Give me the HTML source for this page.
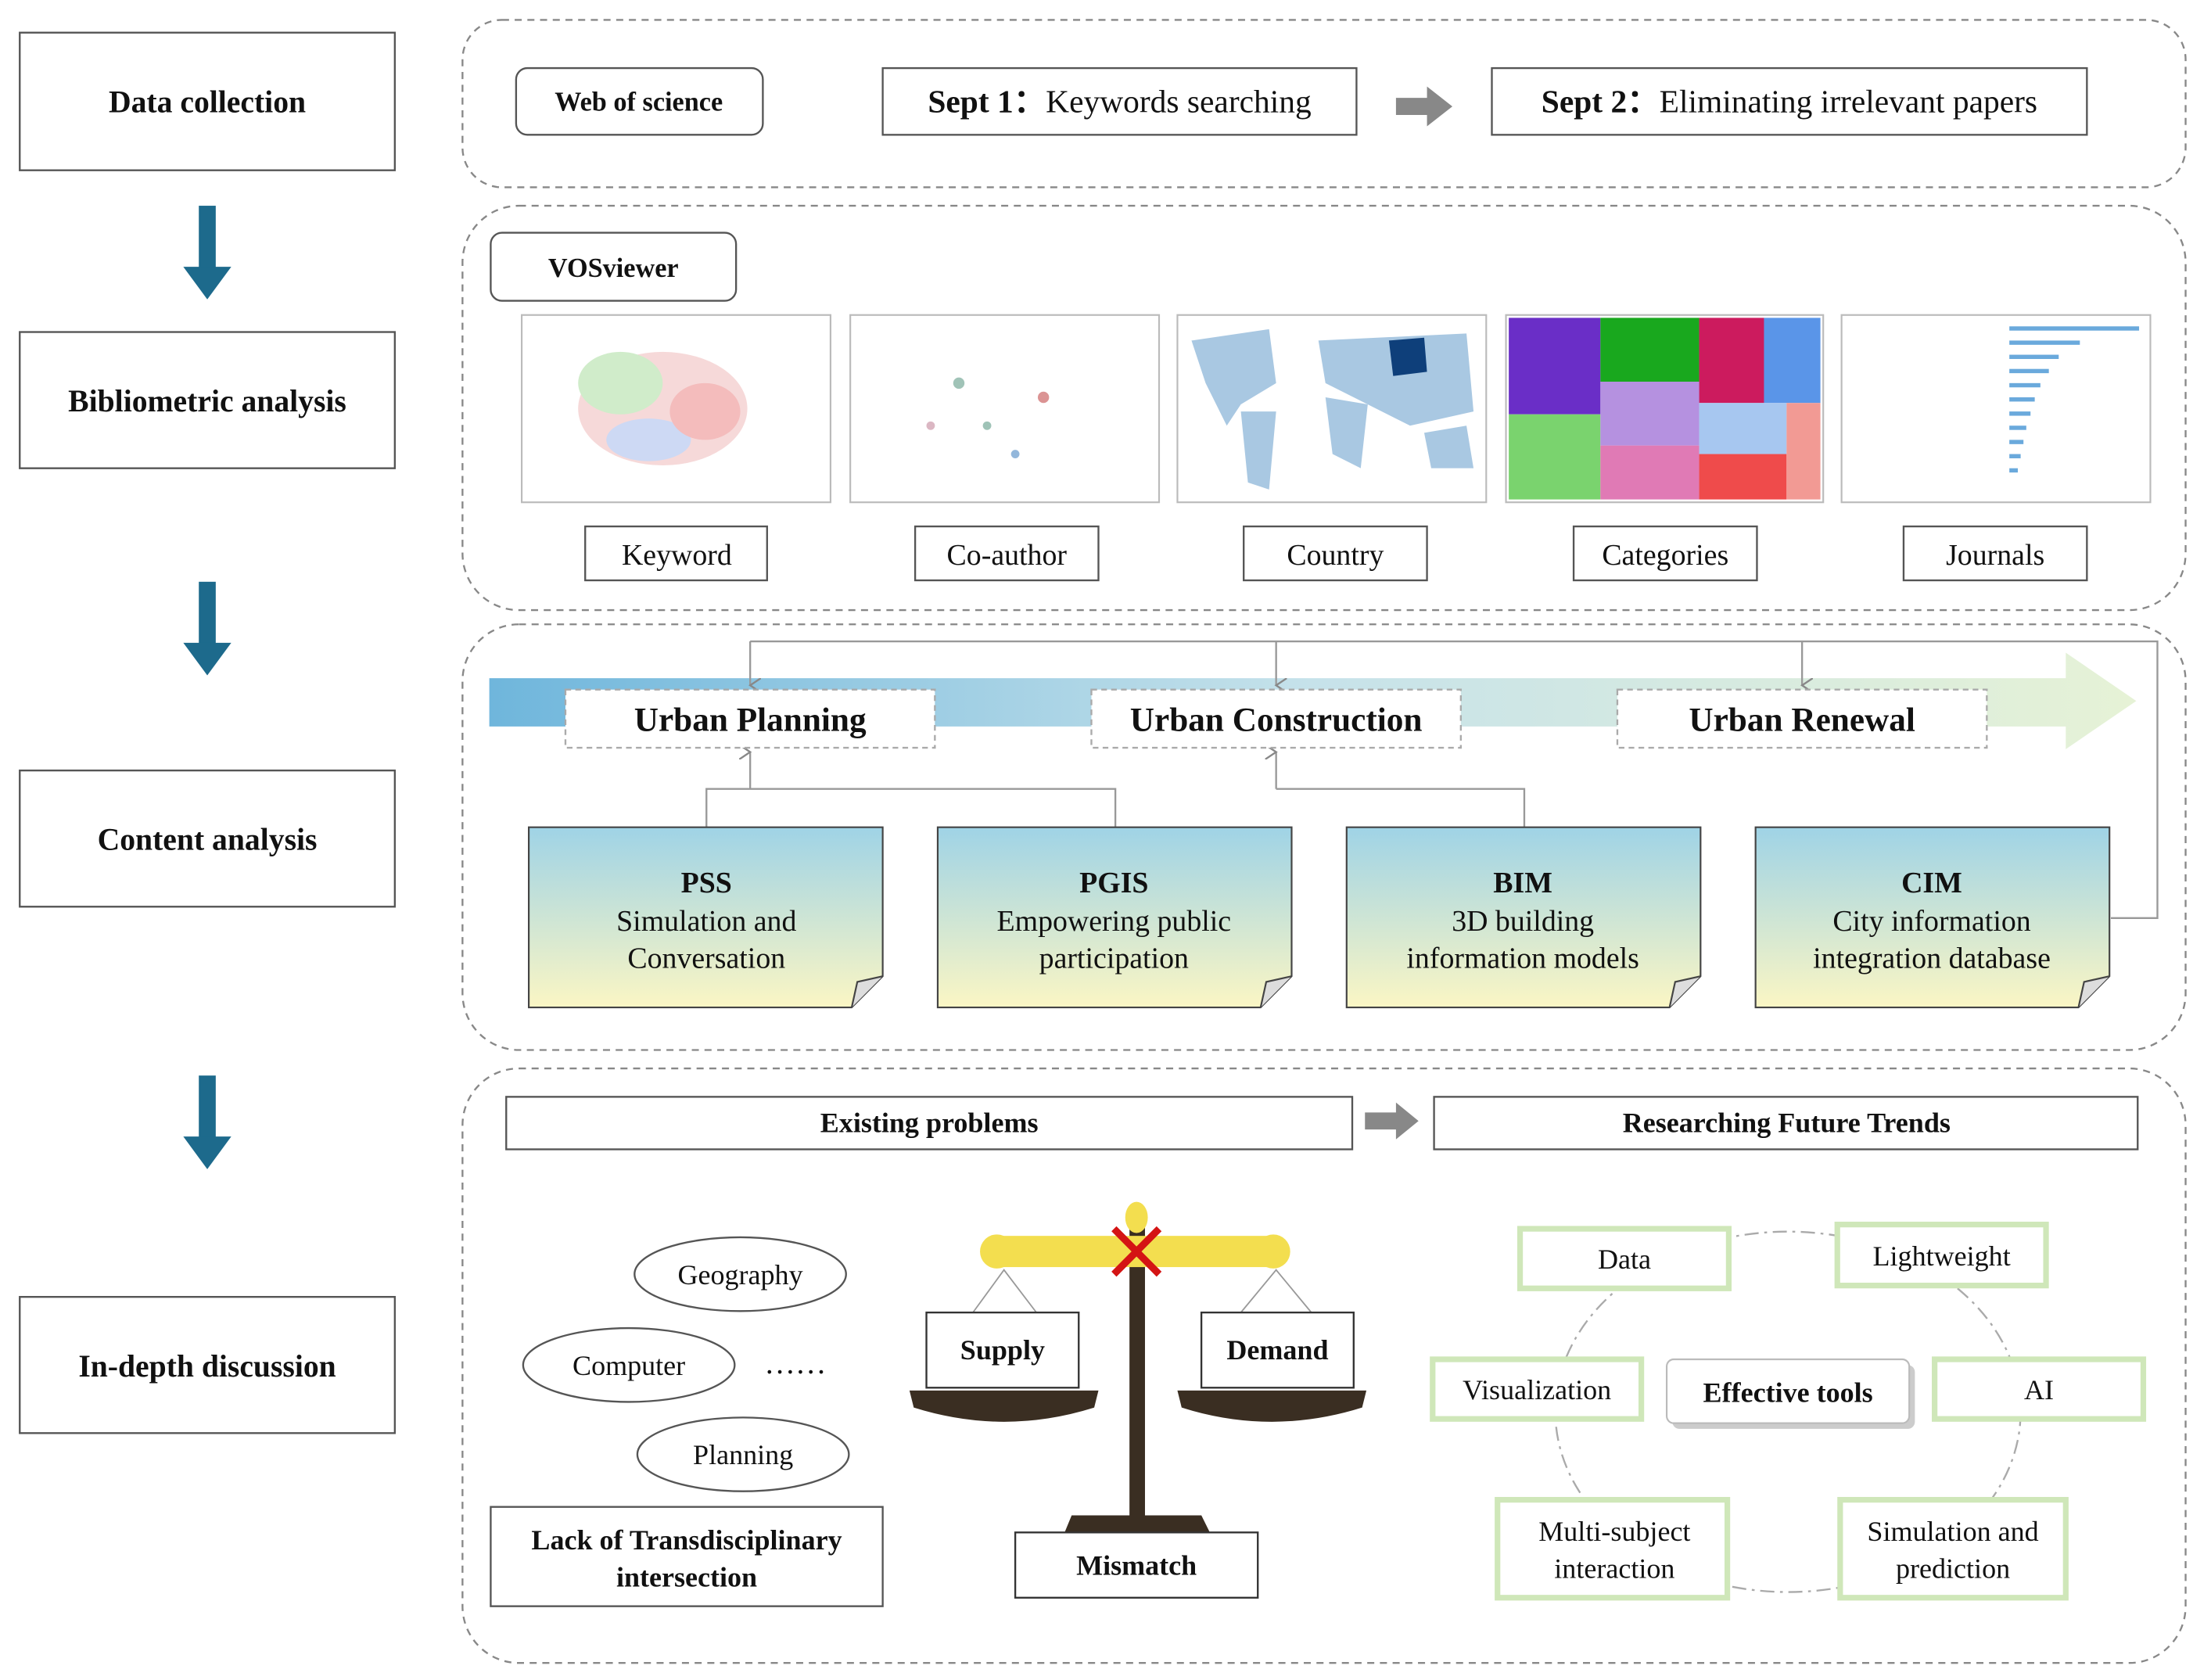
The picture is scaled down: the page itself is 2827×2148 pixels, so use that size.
<!DOCTYPE html>
<html><head><meta charset="utf-8"><style>
html,body{margin:0;padding:0;background:#fff;}
svg{display:block;}
text{font-family:"Liberation Serif",serif;fill:#111;}
</style></head><body>
<svg width="2827" height="2148" viewBox="0 0 1568 1184" preserveAspectRatio="none" xmlns="http://www.w3.org/2000/svg">
<defs>
<linearGradient id="band" x1="0" x2="1" y1="0" y2="0">
<stop offset="0" stop-color="#6fb6dc"/><stop offset="0.5" stop-color="#c6e2ea"/><stop offset="1" stop-color="#e6f2d6"/></linearGradient>
<linearGradient id="note" x1="0" x2="0" y1="0" y2="1">
<stop offset="0" stop-color="#9fd3e6"/><stop offset="1" stop-color="#fbf6c4"/></linearGradient>
<marker id="ah" markerWidth="8" markerHeight="8" refX="4" refY="6" orient="auto"><path d="M0,0 L4,6 L8,0" fill="none" stroke="#888" stroke-width="1"/></marker>
</defs>
<g fill="#fff" stroke="#555" stroke-width="1.3">
<rect x="14" y="23" width="266" height="97"/>
<rect x="14" y="234" width="266" height="96"/>
<rect x="14" y="543" width="266" height="96"/>
<rect x="14" y="914" width="266" height="96"/>
</g>
<g font-weight="bold" font-size="22" text-anchor="middle">
<text x="147" y="79">Data collection</text>
<text x="147" y="290">Bibliometric analysis</text>
<text x="147" y="599">Content analysis</text>
<text x="147" y="970">In-depth discussion</text>
</g>
<g fill="#1d6a8c">
<rect x="141" y="145" width="12" height="45"/><path d="M130,188 L164,188 L147,211Z"/>
<rect x="141" y="410" width="12" height="45"/><path d="M130,453 L164,453 L147,476Z"/>
<rect x="141" y="758" width="12" height="45"/><path d="M130,801 L164,801 L147,824Z"/>
</g>
<g fill="none" stroke="#888" stroke-width="1.3" stroke-dasharray="5,4">
<rect x="328" y="14" width="1222" height="118" rx="28"/>
<rect x="328" y="145" width="1222" height="285" rx="40"/>
<rect x="328" y="440" width="1222" height="300" rx="40"/>
<rect x="328" y="753" width="1222" height="419" rx="40"/>
</g>
<!-- panel1 -->
<rect x="366" y="48" width="175" height="47" rx="8" fill="#fff" stroke="#555" stroke-width="1.3"/>
<text x="453" y="78" font-size="19" font-weight="bold" text-anchor="middle">Web of science</text>
<rect x="626" y="48" width="336" height="47" fill="#fff" stroke="#555" stroke-width="1.3"/>
<text x="794" y="79" font-size="23" text-anchor="middle"><tspan font-weight="bold">Sept 1：</tspan>Keywords searching</text>
<path d="M990,69 L1012,69 L1012,61 L1030,75 L1012,89 L1012,81 L990,81Z" fill="#888"/>
<rect x="1058" y="48" width="422" height="47" fill="#fff" stroke="#555" stroke-width="1.3"/>
<text x="1269" y="79" font-size="23" text-anchor="middle"><tspan font-weight="bold">Sept 2：</tspan>Eliminating irrelevant papers</text>
<!-- panel2 -->
<rect x="348" y="164" width="174" height="48" rx="8" fill="#fff" stroke="#555" stroke-width="1.3"/>
<text x="435" y="195" font-size="19" font-weight="bold" text-anchor="middle">VOSviewer</text>
<g stroke="#bbb" stroke-width="1.2" fill="#fff">
<rect x="370" y="222" width="219" height="132"/><rect x="603" y="222" width="219" height="132"/>
<rect x="835" y="222" width="219" height="132"/><rect x="1068" y="222" width="225" height="132"/>
<rect x="1306" y="222" width="219" height="132"/></g>
<g opacity="0.7">
<ellipse cx="470" cy="288" rx="60" ry="40" fill="#f3c9c9"/><ellipse cx="440" cy="270" rx="30" ry="22" fill="#bde5b5"/><ellipse cx="460" cy="310" rx="30" ry="15" fill="#b9c9f0"/><ellipse cx="500" cy="290" rx="25" ry="20" fill="#f0a0a0"/>
</g>
<g fill="#7a9" opacity="0.7"><circle cx="680" cy="270" r="4"/><circle cx="700" cy="300" r="3"/><circle cx="740" cy="280" r="4" fill="#c66"/><circle cx="720" cy="320" r="3" fill="#69c"/><circle cx="660" cy="300" r="3" fill="#c9a"/></g>
<g fill="#a9c8e2"><path d="M845,240 L900,232 L905,270 L880,285 L870,300 L855,270Z"/><path d="M880,290 L905,290 L900,345 L885,340Z"/><path d="M935,240 L1040,235 L1045,290 L1000,300 L960,280 L940,270Z"/><path d="M940,280 L970,285 L965,330 L945,320Z"/><path d="M1010,305 L1040,300 L1045,330 L1015,330Z"/></g>
<path d="M985,240 L1010,238 L1012,262 L988,265Z" fill="#0e3f7a"/>
<rect x="1070" y="224" width="65" height="68" fill="#6a2ec7"/><rect x="1135" y="224" width="70" height="45" fill="#19a81e"/><rect x="1205" y="224" width="46" height="60" fill="#cc1b5e"/><rect x="1251" y="224" width="40" height="60" fill="#5a95e8"/>
<rect x="1070" y="292" width="65" height="60" fill="#7ad36e"/><rect x="1135" y="269" width="70" height="45" fill="#b591e0"/><rect x="1135" y="314" width="70" height="38" fill="#e07ab5"/><rect x="1205" y="284" width="62" height="36" fill="#a7c7f0"/><rect x="1205" y="320" width="62" height="32" fill="#ef4b4b"/><rect x="1267" y="284" width="24" height="68" fill="#f29a94"/>
<g fill="#6aa9dc"><rect x="1425" y="230" width="92" height="3"/><rect x="1425" y="240" width="50" height="3"/><rect x="1425" y="250" width="35" height="3"/><rect x="1425" y="260" width="28" height="3"/><rect x="1425" y="270" width="22" height="3"/><rect x="1425" y="280" width="18" height="3"/><rect x="1425" y="290" width="15" height="3"/><rect x="1425" y="300" width="12" height="3"/><rect x="1425" y="310" width="10" height="3"/><rect x="1425" y="320" width="8" height="3"/><rect x="1425" y="330" width="6" height="3"/></g>
<g fill="#fff" stroke="#555" stroke-width="1.3">
<rect x="415" y="371" width="129" height="38"/><rect x="649" y="371" width="130" height="38"/><rect x="882" y="371" width="130" height="38"/><rect x="1116" y="371" width="130" height="38"/><rect x="1350" y="371" width="130" height="38"/></g>
<g font-size="21" text-anchor="middle">
<text x="480" y="398">Keyword</text><text x="714" y="398">Co-author</text><text x="947" y="398">Country</text><text x="1181" y="398">Categories</text><text x="1415" y="398">Journals</text></g>
<!-- panel3 -->
<path d="M347,478 L1465,478 L1465,460 L1515,494 L1465,528 L1465,512 L347,512Z" fill="url(#band)"/>
<g fill="none" stroke="#999" stroke-width="1.3">
<path d="M532,452 L1530,452 L1530,647 L1497,647"/>
<path d="M532,452 L532,483" marker-end="url(#ah)"/><path d="M905,452 L905,483" marker-end="url(#ah)"/><path d="M1278,452 L1278,483" marker-end="url(#ah)"/>
<path d="M501,583 L501,556 L791,556 L791,583"/><path d="M532,556 L532,530" marker-end="url(#ah)"/>
<path d="M1081,583 L1081,556 L905,556"/><path d="M905,556 L905,530" marker-end="url(#ah)"/>
</g>
<g fill="#fff" stroke="#aaa" stroke-width="1.3" stroke-dasharray="4,3">
<rect x="401" y="486" width="262" height="41"/><rect x="774" y="486" width="262" height="41"/><rect x="1147" y="486" width="262" height="41"/></g>
<g font-size="24" font-weight="bold" text-anchor="middle">
<text x="532" y="515">Urban Planning</text><text x="905" y="515">Urban Construction</text><text x="1278" y="515">Urban Renewal</text></g>
<g stroke="#444" stroke-width="1.2">
<path d="M375,583 L626,583 L626,688 L604,710 L375,710Z" fill="url(#note)"/><path d="M604,710 L608,692 L626,688" fill="#ddd"/>
<path d="M665,583 L916,583 L916,688 L894,710 L665,710Z" fill="url(#note)"/><path d="M894,710 L898,692 L916,688" fill="#ddd"/>
<path d="M955,583 L1206,583 L1206,688 L1184,710 L955,710Z" fill="url(#note)"/><path d="M1184,710 L1188,692 L1206,688" fill="#ddd"/>
<path d="M1245,583 L1496,583 L1496,688 L1474,710 L1245,710Z" fill="url(#note)"/><path d="M1474,710 L1478,692 L1496,688" fill="#ddd"/>
</g>
<g font-size="21" text-anchor="middle">
<text x="501" y="629" font-weight="bold">PSS</text><text x="501" y="656">Simulation and</text><text x="501" y="682">Conversation</text>
<text x="790" y="629" font-weight="bold">PGIS</text><text x="790" y="656">Empowering public</text><text x="790" y="682">participation</text>
<text x="1080" y="629" font-weight="bold">BIM</text><text x="1080" y="656">3D building</text><text x="1080" y="682">information models</text>
<text x="1370" y="629" font-weight="bold">CIM</text><text x="1370" y="656">City information</text><text x="1370" y="682">integration database</text>
</g>
<!-- panel4 -->
<rect x="359" y="773" width="600" height="37" fill="#fff" stroke="#555" stroke-width="1.3"/>
<text x="659" y="798" font-size="20" font-weight="bold" text-anchor="middle">Existing problems</text>
<path d="M968,784 L990,784 L990,777 L1006,790 L990,803 L990,796 L968,796Z" fill="#888"/>
<rect x="1017" y="773" width="499" height="37" fill="#fff" stroke="#555" stroke-width="1.3"/>
<text x="1267" y="798" font-size="20" font-weight="bold" text-anchor="middle">Researching Future Trends</text>
<g fill="#fff" stroke="#555" stroke-width="1.3">
<ellipse cx="525" cy="898" rx="75" ry="26"/><ellipse cx="446" cy="962" rx="75" ry="26"/><ellipse cx="527" cy="1025" rx="75" ry="26"/>
<rect x="348" y="1062" width="278" height="70"/></g>
<g font-size="20" text-anchor="middle">
<text x="525" y="905">Geography</text><text x="446" y="969">Computer</text><text x="527" y="1032">Planning</text>
<text x="564" y="968" font-size="22">……</text>
<text x="487" y="1092" font-weight="bold">Lack of Transdisciplinary</text><text x="487" y="1118" font-weight="bold">intersection</text></g>
<!-- balance -->
<g stroke="#999" stroke-width="1" fill="none"><path d="M690,925 L712,895 L735,925"/><path d="M880,925 L905,895 L930,925"/></g>
<rect x="801" y="865" width="11" height="205" fill="#3a2e22"/>
<path d="M760,1068 L852,1068 L858,1080 L755,1080Z" fill="#3a2e22"/>
<rect x="705" y="871" width="200" height="22" fill="#f3de4f"/>
<circle cx="707" cy="882" r="12" fill="#f3de4f"/><circle cx="903" cy="882" r="12" fill="#f3de4f"/>
<ellipse cx="806" cy="858" rx="8" ry="11" fill="#f3de4f"/>
<path d="M790,866 L822,898 M822,866 L790,898" stroke="#d41414" stroke-width="5"/>
<path d="M645,980 L779,980 L776,992 Q712,1012 648,992Z" fill="#3a2e22"/>
<path d="M835,980 L969,980 L966,992 Q902,1012 838,992Z" fill="#3a2e22"/>
<g fill="#fff" stroke="#333" stroke-width="1.3"><rect x="657" y="925" width="108" height="53"/><rect x="852" y="925" width="108" height="53"/><rect x="720" y="1080" width="172" height="46"/></g>
<g font-size="20" font-weight="bold" text-anchor="middle"><text x="711" y="958">Supply</text><text x="906" y="958">Demand</text><text x="806" y="1110">Mismatch</text></g>
<!-- tools -->
<ellipse cx="1268" cy="995" rx="165" ry="127" fill="none" stroke="#aaa" stroke-width="1.3" stroke-dasharray="10,4,2,4"/>
<g fill="#fff" stroke="#cfe7b9" stroke-width="4">
<rect x="1078" y="866" width="148" height="42"/><rect x="1303" y="863" width="148" height="43"/><rect x="1016" y="958" width="148" height="42"/><rect x="1372" y="958" width="148" height="42"/><rect x="1062" y="1057" width="163" height="69"/><rect x="1305" y="1057" width="160" height="69"/></g>
<rect x="1186" y="962" width="172" height="45" rx="5" fill="#ccc"/>
<rect x="1182" y="958" width="172" height="45" rx="5" fill="#fff" stroke="#bbb" stroke-width="1.2"/>
<g font-size="20" text-anchor="middle">
<text x="1152" y="894">Data</text><text x="1377" y="892">Lightweight</text><text x="1090" y="986">Visualization</text><text x="1446" y="986">AI</text>
<text x="1268" y="988" font-weight="bold">Effective tools</text>
<text x="1145" y="1086">Multi-subject</text><text x="1145" y="1112">interaction</text>
<text x="1385" y="1086">Simulation and</text><text x="1385" y="1112">prediction</text></g>
</svg>
</body></html>
